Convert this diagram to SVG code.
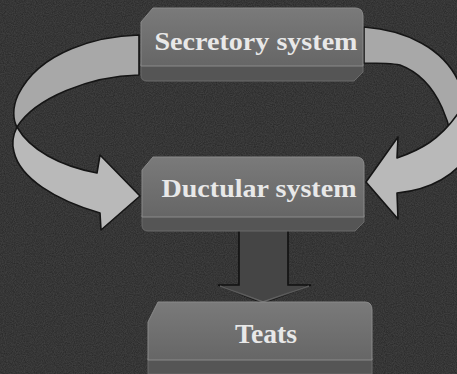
<svg xmlns="http://www.w3.org/2000/svg" width="457" height="374" viewBox="0 0 457 374">
<defs>
<filter id="noise" x="0" y="0" width="100%" height="100%">
<feTurbulence type="fractalNoise" baseFrequency="0.9" numOctaves="2" seed="3" result="t"/>
<feColorMatrix in="t" type="matrix" values="0 0 0 0 0  0 0 0 0 0  0 0 0 0 0  0 0 0 0.9 -0.25"/>
</filter>
<linearGradient id="face" x1="0" y1="0" x2="0" y2="1">
<stop offset="0" stop-color="#7a7a7a"/>
<stop offset="1" stop-color="#666"/>
</linearGradient>
<style>
.bg{fill:#3e3e3e}
.face{fill:url(#face);stroke:#8a8a8a;stroke-width:1}
.strip{fill:#555;stroke:#6a6a6a;stroke-width:1}
.lbl{font-family:"Liberation Serif","Times New Roman",serif;font-weight:bold;fill:#e8e8e8;text-anchor:middle}
.rib{fill:#b9b9b9;stroke:#151515;stroke-width:1.6;stroke-linejoin:round}
.ribback{fill:#a8a8a8;stroke:#151515;stroke-width:1.6;stroke-linejoin:round}
.down{fill:#454545;stroke:#111;stroke-width:1.6;stroke-linejoin:miter}
</style>
</defs>
<rect class="bg" x="0" y="0" width="457" height="374"/>
<rect x="0" y="0" width="457" height="374" filter="url(#noise)" opacity="0.6"/>

<g id="connectors">
<g id="left-arrow">
<path class="ribback" d="M139,35 C100,36 40,50 18,95 C12,108 13,120 17,127 C35,98 90,76 139,75 Z"/>
<path class="rib" d="M17,127 C13,135 12,145 14,152 C20,178 55,200 100,213 L101,230 L140,196 L100,155 L97,173 C60,166 30,150 17,127 Z"/>
</g>
<g id="right-arrow">
<path class="ribback" d="M364,27 C405,30 445,48 460,85 L470,90 L470,165 L454,165 C454,130 440,80 400,65 C390,63 378,63 364,63 Z"/>
<path class="rib" d="M397,158 C420,150 440,140 459,112 L470,112 L470,150 C458,175 430,190 397,193 L398,219 L366,182 L398,137 Z"/>
</g>
<g id="down-arrow">
<path class="down" d="M239,230 L288,230 L288,285 L311,285 L263,303 L218,285 L239,285 Z"/>
<path d="M220,286 L263,302 L309,286" fill="none" stroke="#777" stroke-width="1.5" opacity="0.7"/>
</g>
</g>

<g id="node-secretory">
<path class="strip" d="M141,64 L363,64 L363,72 L354,81 L147,81 Q141,81 141,75 Z"/>
<path class="face" d="M153,8 L355,8 Q363,8 363,16 L363,66 L141,66 L141,22 Z"/>
<text class="lbl" x="256" y="50" font-size="26" textLength="203" lengthAdjust="spacingAndGlyphs">Secretory system</text>
</g>

<g id="node-ductular">
<path class="strip" d="M142,215 L364,215 L364,222 L355,231 L148,231 Q142,231 142,225 Z"/>
<path class="face" d="M153,157 L356,157 Q364,157 364,165 L364,217 L142,217 L142,170 Z"/>
<text class="lbl" x="259" y="197" font-size="26" textLength="195" lengthAdjust="spacingAndGlyphs">Ductular system</text>
</g>

<g id="node-teats">
<path class="strip" d="M148,358 L372,358 L372,374 L148,374 Z"/>
<path class="face" d="M158,302 L365,302 Q372,302 372,310 L372,360 L148,360 L148,322 Z"/>
<text class="lbl" x="266" y="343" font-size="27" textLength="62" lengthAdjust="spacingAndGlyphs">Teats</text>
</g>
</svg>
